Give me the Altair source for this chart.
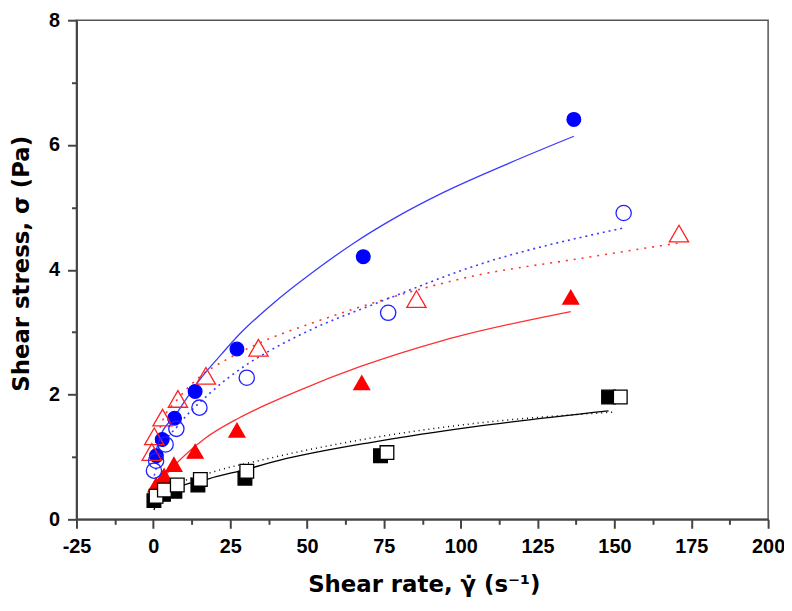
import pandas as pd
import altair as alt

# Measured points (shear rate, shear stress)
blue_filled_x = [1.0, 2.9, 6.9, 13.6, 27.2, 68.3, 136.8]
blue_filled_y = [1.02, 1.28, 1.62, 2.05, 2.73, 4.21, 6.41]

blue_open_x = [0.2, 0.9, 4.0, 7.5, 15.0, 30.4, 76.4, 153.0]
blue_open_y = [0.78, 0.94, 1.20, 1.45, 1.79, 2.27, 3.31, 4.91]

red_open_x = [-0.5, 0.3, 3.0, 8.0, 17.1, 34.2, 85.6, 171.0]
red_open_y = [1.08, 1.33, 1.63, 1.93, 2.30, 2.75, 3.53, 4.58]

red_filled_x = [0.9, 3.5, 6.7, 13.6, 27.2, 67.8, 135.8]
red_filled_y = [0.55, 0.70, 0.88, 1.09, 1.43, 2.19, 3.56]

black_filled_x = [0.2, 3.3, 7.0, 14.5, 29.8, 73.9, 148.1]
black_filled_y = [0.30, 0.40, 0.45, 0.55, 0.66, 1.02, 1.96]

black_open_x = [0.9, 3.6, 7.8, 15.3, 30.4, 76.0, 151.9]
black_open_y = [0.37, 0.47, 0.55, 0.64, 0.77, 1.07, 1.96]

# Fitted curves
blue_solid_x = [0.3, 2.0, 7.2, 14.8, 22.4, 27.7, 38.5, 53.5, 65.3, 78.2, 94.4, 115.8, 136.8]
blue_solid_y = [0.95, 1.30, 1.67, 2.22, 2.66, 2.95, 3.44, 4.02, 4.43, 4.82, 5.24, 5.71, 6.14]

blue_dot_x = [0.3, 3.0, 8.0, 18.6, 31.0, 38.5, 51.3, 72.9, 105.1, 153.0]
blue_dot_y = [0.70, 1.15, 1.50, 2.03, 2.50, 2.72, 3.04, 3.47, 4.07, 4.67]

red_dot_x = [0.0, 3.0, 8.0, 15.0, 24.5, 38.5, 51.9, 66.4, 105.1, 137.4, 171.0]
red_dot_y = [1.10, 1.58, 1.93, 2.28, 2.58, 2.91, 3.15, 3.39, 3.91, 4.17, 4.43]

red_solid_x = [0.5, 6.2, 16.9, 27.7, 37.3, 47.1, 67.4, 94.4, 135.8]
red_solid_y = [0.50, 0.83, 1.30, 1.62, 1.85, 2.06, 2.45, 2.87, 3.33]

black_solid_x = [0.2, 1.5, 6.2, 18.0, 30.9, 40.6, 72.9, 105.1, 148.1]
black_solid_y = [0.15, 0.30, 0.47, 0.65, 0.81, 0.94, 1.25, 1.49, 1.74]

black_dot_x = [0.3, 6.0, 20.2, 35.2, 72.9, 105.1, 150.2]
black_dot_y = [0.25, 0.50, 0.77, 0.95, 1.32, 1.54, 1.72]

x_major = [-25, 0, 25, 50, 75, 100, 125, 150, 175, 200]
x_minor = [-12.5, 12.5, 37.5, 62.5, 87.5, 112.5, 137.5, 162.5, 187.5]
y_major = [0, 2, 4, 6, 8]
y_minor = [1, 3, 5, 7]

W, H = 697, 503
FONT = "Liberation Sans"
TFONT = "DejaVu Sans"
AX = "#444444"


def frame(x, y):
    return pd.DataFrame({"x": x, "y": y})


xs = alt.Scale(domain=[-25, 200], nice=False, zero=False)
ys = alt.Scale(domain=[0, 8], nice=False, zero=False)

x_axis = alt.Axis(
    values=x_major, orient="bottom", grid=False, tickSize=9, tickWidth=2,
    tickColor=AX, domainColor=AX, domainWidth=2, labelFont=FONT,
    labelFontSize=20, labelFontWeight="bold", labelColor="black",
    labelPadding=8, labelFlush=False, labelOverlap=False,
    labelExpr="'' + datum.value",
    title="Shear rate, γ̇ (s⁻¹)", titleFont=TFONT, titleFontSize=23,
    titleFontWeight="bold", titleColor="black", titleBaseline="alphabetic",
    titleX=350, titleY=73,
)
y_axis = alt.Axis(
    values=y_major, orient="left", grid=False, tickSize=9, tickWidth=2,
    tickColor=AX, domainColor=AX, domainWidth=2, labelFont=FONT,
    labelFontSize=20, labelFontWeight="bold", labelColor="black",
    labelPadding=8, labelFlush=False, labelOverlap=False,
    title="Shear stress, σ (Pa)", titleFont=TFONT, titleFontSize=23,
    titleFontWeight="bold", titleColor="black", titleAngle=270,
    titleBaseline="alphabetic", titleAlign="center", titleX=-48, titleY=245,
)
x_axis_minor = alt.Axis(
    values=x_minor, orient="bottom", grid=False, tickSize=5, tickWidth=2,
    tickColor=AX, domain=False, labels=False, title=None,
)
y_axis_minor = alt.Axis(
    values=y_minor, orient="left", grid=False, tickSize=5, tickWidth=2,
    tickColor=AX, domain=False, labels=False, title=None,
)


def line(x, y, color, dash=None, width=1.3, axes=None):
    kw = dict(color=color, strokeWidth=width, interpolate="monotone")
    if dash:
        kw["strokeDash"] = dash
    xa, ya = axes if axes else (None, None)
    return alt.Chart(frame(x, y)).mark_line(**kw).encode(
        x=alt.X("x:Q", scale=xs, axis=xa),
        y=alt.Y("y:Q", scale=ys, axis=ya),
    )


def points(x, y, shape, size, fill, stroke, axes=None):
    kw = dict(shape=shape, size=size, opacity=1, strokeWidth=1.3)
    if fill == "none":
        kw["filled"] = False
        kw["color"] = stroke
    else:
        kw["filled"] = True
        kw["fill"] = fill
        kw["fillOpacity"] = 1
        kw["stroke"] = stroke
    xa, ya = axes if axes else (None, None)
    return alt.Chart(frame(x, y)).mark_point(**kw).encode(
        x=alt.X("x:Q", scale=xs, axis=xa),
        y=alt.Y("y:Q", scale=ys, axis=ya),
    )


layers = [
    line(black_solid_x, black_solid_y, "#000000", axes=(x_axis_minor, y_axis_minor)),
    line(black_dot_x, black_dot_y, "#000000", dash=[1, 4], width=1.5),
    line(red_solid_x, red_solid_y, "#ff3030"),
    line(red_dot_x, red_dot_y, "#ff3030", dash=[2, 6], width=1.6),
    line(blue_dot_x, blue_dot_y, "#3a3aff", dash=[2, 4], width=1.6),
    line(blue_solid_x, blue_solid_y, "#3a3aff"),
    points(black_filled_x, black_filled_y, "square", 190, "#000000", "#000000"),
    points(red_filled_x, red_filled_y, "triangle-up", 256, "#ff0000", "#ff0000"),
    points(blue_filled_x, blue_filled_y, "circle", 190, "#0000ff", "#0000ff"),
    points(black_open_x, black_open_y, "square", 190, "#ffffff", "#000000"),
    points(red_open_x, red_open_y, "triangle-up", 376, "none", "#ff2020"),
    points(blue_open_x, blue_open_y, "circle", 237, "none", "#2020ff",
           axes=(x_axis, y_axis)),
]

chart = alt.layer(*layers).resolve_axis(
    x="independent", y="independent"
).properties(
    width=W,
    height=H,
    autosize=alt.AutoSizeParams(type="none"),
    padding={"left": 69, "top": 10, "right": 16, "bottom": 79},
    background="white",
).configure_view(
    stroke="#555555", strokeWidth=1.5
)

chart.save("out.html", embed_options={"renderer": "svg", "actions": False})
